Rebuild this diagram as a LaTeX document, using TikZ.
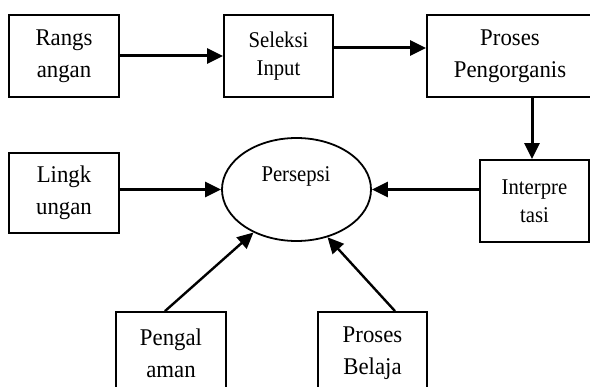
\documentclass[tikz,border=0pt]{standalone}
\usepackage{fontspec}
\setmainfont{Liberation Serif}
\newfontfamily\narrowserif[FakeStretch=0.95]{Liberation Serif}
\newfontfamily\narrowerserif[FakeStretch=0.92]{Liberation Serif}
\usetikzlibrary{arrows.meta,shapes.geometric}
\begin{document}
\begin{tikzpicture}[x=1pt,y=-1pt,
  bigtext/.style={font=\narrowserif\fontsize{24}{32}\selectfont},
  smalltext/.style={font=\narrowerserif\fontsize{22.5}{27.5}\selectfont},
  boxnode/.style={draw,line width=1.8pt,rectangle,inner sep=0pt,align=center,minimum height=82pt,minimum width=110pt},
  arr/.style={line width=3pt,-{Triangle[length=16pt,width=15pt]}},
  diag/.style={line width=2.4pt,-{Triangle[length=16pt,width=15pt]}}
]
\useasboundingbox (0,0) rectangle (590,387);
\node[boxnode,bigtext] (rang) at (64,56) {Rangs\\angan};
\node[boxnode,smalltext,minimum width=109pt] (sel) at (278.5,56) {Seleksi\\Input};
\node[boxnode,bigtext,minimum width=166pt] (pro) at (510,56) {Proses\\Pengorganis};
\node[boxnode,bigtext,minimum height=80pt] (ling) at (64,193) {Lingk\\ungan};
\node[boxnode,smalltext,minimum width=109pt] (interp) at (534.5,201) {Interpre\\tasi};
\node[boxnode,bigtext] (peng) at (171,353) {Pengal\\aman};
\node[boxnode,bigtext,minimum width=109pt] (bel) at (372.5,353) {Proses\\Belaja};
\node[draw,ellipse,line width=1.8pt,inner sep=0pt,minimum width=149pt,minimum height=103pt] (pers) at (296.5,189.5) {};
\node[smalltext,anchor=base] (perstext) at (296,181.7) {Persepsi};

\draw[arr] (rang.east) -- (sel.west);
\draw[arr] ([yshift=8pt]sel.east) -- ([yshift=8pt]sel.east -| pro.west);
\draw[arr] ([xshift=22pt]pro.south) -- ([xshift=22pt]pro.south |- interp.north);
\draw[arr] (ling.east |- pers.west) -- (pers.west);
\draw[arr] (interp.west |- pers.east) -- (pers.east);
\draw[diag] ([xshift=-6pt]peng.north) -- (pers.225.6);
\draw[diag] ([xshift=22.5pt]bel.north) -- (pers.303.8);
\end{tikzpicture}
\end{document}
